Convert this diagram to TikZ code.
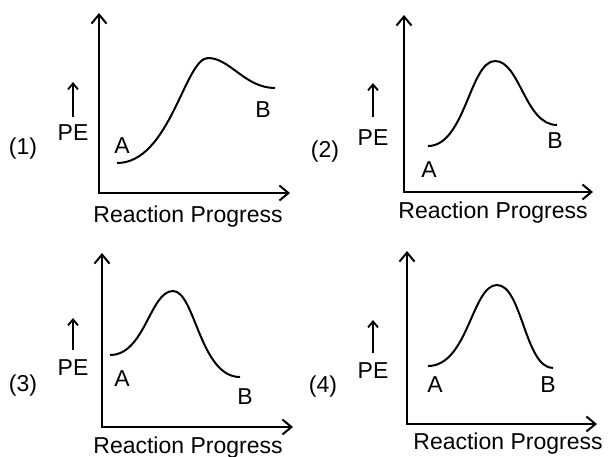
\documentclass[tikz,border=0pt]{standalone}
\usepackage{fontspec}
\setmainfont{Liberation Sans}
\usetikzlibrary{arrows.meta}

\begin{document}
\begin{tikzpicture}[x=1pt,y=-1pt,
 axis/.style={line width=2.7pt,line join=miter,
   {Straight Barb[length=9pt,width=15pt,line width=2pt]}-{Straight Barb[length=9pt,width=15pt,line width=2pt]}},
 peup/.style={line width=2pt,-{Straight Barb[length=6pt,width=10pt,line width=1.8pt]}},
 curve/.style={line width=2pt},
 lbl/.style={anchor=base,inner sep=0pt,font=\fontsize{23pt}{27pt}\selectfont}]
\useasboundingbox (0,0) rectangle (610,456);
% (1)
\coordinate (y1) at (99,13); \coordinate (x1) at (290,193);
\draw[axis] (y1) |- (x1);
\coordinate (pb1) at (73,117); \coordinate (pt1) at (73,82);
\draw[peup] (pb1) -- (pt1);
\draw[curve] (117,163) .. controls (170,163) and (185,58) .. (208,58)
  .. controls (230,58) and (245,88) .. (275,88);
\node[lbl] (n1) at (23,154) {(1)}; \node[lbl] (pe1) at (73,140) {PE};
\node[lbl] (a1) at (122,153) {A}; \node[lbl] (b1) at (263,117) {B};
\node[lbl] (rp1) at (188,222) {Reaction Progress};
% (2)
\coordinate (y2) at (404,15); \coordinate (x2) at (593,192);
\draw[axis] (y2) |- (x2);
\coordinate (pb2) at (373,117); \coordinate (pt2) at (373,83);
\draw[peup] (pb2) -- (pt2);
\draw[curve] (428,146) .. controls (465,146) and (470,61) .. (495,61)
  .. controls (520,61) and (525,125) .. (557,125);
\node[lbl] (n2) at (325,157) {(2)}; \node[lbl] (pe2) at (373,145) {PE};
\node[lbl] (a2) at (429,177) {A}; \node[lbl] (b2) at (555,148) {B};
\node[lbl] (rp2) at (493,218) {Reaction Progress};
% (3)
\coordinate (y3) at (102,253); \coordinate (x3) at (293,427);
\draw[axis] (y3) |- (x3);
\coordinate (pb3) at (73,350); \coordinate (pt3) at (73,318);
\draw[peup] (pb3) -- (pt3);
\draw[curve] (110,355) .. controls (145,355) and (150,291) .. (173,291)
  .. controls (195,291) and (200,377) .. (240,377);
\node[lbl] (n3) at (23,391) {(3)}; \node[lbl] (pe3) at (73,375) {PE};
\node[lbl] (a3) at (122,386) {A}; \node[lbl] (b3) at (245,404) {B};
\node[lbl] (rp3) at (188,453) {Reaction Progress};
% (4)
\coordinate (y4) at (407,251); \coordinate (x4) at (597,424);
\draw[axis] (y4) |- (x4);
\coordinate (pb4) at (373,353); \coordinate (pt4) at (373,320);
\draw[peup] (pb4) -- (pt4);
\draw[curve] (428,366) .. controls (468,366) and (472,285) .. (497,285)
  .. controls (522,285) and (525,368) .. (553,368);
\node[lbl] (n4) at (323,392) {(4)}; \node[lbl] (pe4) at (373,378) {PE};
\node[lbl] (a4) at (435,392) {A}; \node[lbl] (b4) at (548,392) {B};
\node[lbl] (rp4) at (508,449) {Reaction Progress};
\end{tikzpicture}
\end{document}
